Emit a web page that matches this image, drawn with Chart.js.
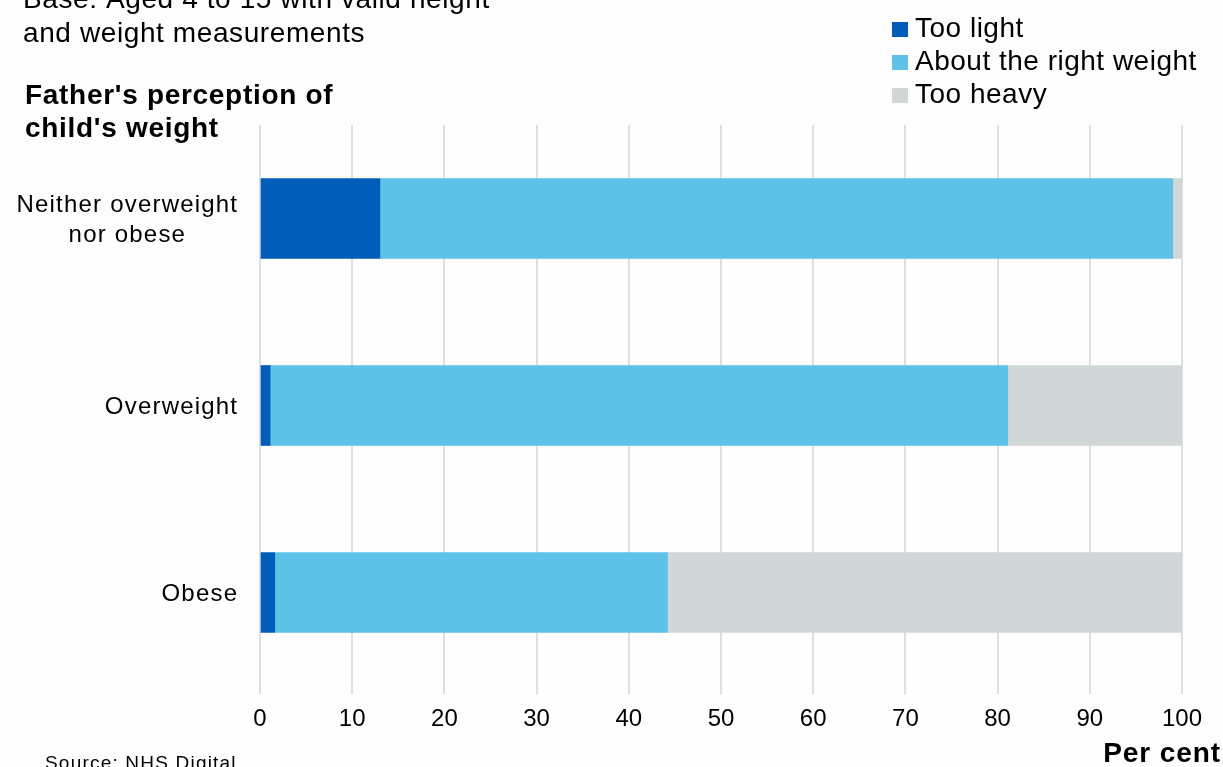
<!DOCTYPE html>
<html>
<head>
<meta charset="utf-8">
<script src="https://cdn.jsdelivr.net/npm/chart.js@4"></script>
<style>
  html, body { margin: 0; padding: 0; background: #fdfdfd; }
  #wrap { width: 1223px; height: 767px; position: relative; }
</style>
</head>
<body>
<div id="wrap"><canvas id="chart" width="1223" height="767"></canvas></div>
<script>
"use strict";

// Father's perception of child's weight, by child's measured BMI class (per cent).
const categories = [["Neither overweight", "nor obese"], ["Overweight"], ["Obese"]];
const tooLight = [13, 1.1, 1.6];
const aboutRight = [86, 80, 42.6];
const tooHeavy = [1, 18.9, 55.8];
const xTicks = [0, 10, 20, 30, 40, 50, 60, 70, 80, 90, 100];

const seriesNames = ["Too light", "About the right weight", "Too heavy"];
const seriesColours = ["#005eb8", "#5dc1e8", "#d1d6d6"];

const FONT = "'Liberation Sans', Arial, sans-serif";

function spacedText(ctx, text, x, y, font, spacing, align) {
  ctx.save();
  ctx.font = font;
  ctx.letterSpacing = spacing + "px";
  ctx.fillStyle = "#000";
  ctx.textBaseline = "alphabetic";
  let w = ctx.measureText(text).width - spacing;
  let left = x;
  if (align === "right") left = x - w;
  else if (align === "center") left = x - w / 2;
  ctx.textAlign = "left";
  ctx.fillText(text, left, y);
  ctx.restore();
  return w;
}

function textWidth(ctx, text, font, spacing) {
  ctx.save();
  ctx.font = font;
  ctx.letterSpacing = spacing + "px";
  const w = ctx.measureText(text).width - spacing;
  ctx.restore();
  return w;
}

const background = {
  id: "background",
  beforeDraw(chart) {
    const ctx = chart.ctx;
    ctx.save();
    ctx.fillStyle = "#fdfdfd";
    ctx.fillRect(0, 0, chart.width, chart.height);
    ctx.restore();
  },
};

// titles, legend, category labels and notes drawn straight on the canvas
const annotations = {
  id: "annotations",
  afterDraw(chart) {
    const ctx = chart.ctx;
    const reg = `28px ${FONT}`;
    const bold = `bold 28px ${FONT}`;

    spacedText(ctx, "Base: Aged 4 to 15 with valid height", 23, 8, reg, 0.6);
    spacedText(ctx, "and weight measurements", 23, 42, reg, 0.6);

    spacedText(ctx, "Father's perception of", 25, 104, bold, 0.7);
    spacedText(ctx, "child's weight", 25, 137, bold, 0.7);

    // legend
    const legFont = `28px ${FONT}`;
    seriesNames.forEach((name, i) => {
      const base = 37 + i * 33;
      ctx.fillStyle = seriesColours[i];
      ctx.fillRect(892, base - 15, 16, 15);
      spacedText(ctx, name, 915, base, legFont, 0.5);
    });

    // category labels, each block right-aligned with its lines centred
    const yScale = chart.scales.y;
    const catFont = `24px ${FONT}`;
    categories.forEach((lines, i) => {
      const cy = yScale.getPixelForValue(i);
      const widths = lines.map((l) => textWidth(ctx, l, catFont, 1.2));
      const maxW = Math.max(...widths);
      const cx = 237 - maxW / 2;
      const first = cy + 8 - (lines.length - 1) * 15;
      lines.forEach((l, j) => spacedText(ctx, l, cx, first + j * 30, catFont, 1.2, "center"));
    });

    spacedText(ctx, "Per cent", 1220, 762, bold, 0.9, "right");
    spacedText(ctx, "Source: NHS Digital", 45, 769, `19px ${FONT}`, 1.2);
  },
};

new Chart(document.getElementById("chart"), {
  type: "bar",
  data: {
    labels: categories,
    datasets: [
      { label: seriesNames[0], data: tooLight, backgroundColor: seriesColours[0] },
      { label: seriesNames[1], data: aboutRight, backgroundColor: seriesColours[1] },
      { label: seriesNames[2], data: tooHeavy, backgroundColor: seriesColours[2] },
    ],
  },
  options: {
    indexAxis: "y",
    responsive: false,
    animation: false,
    layout: { padding: { left: 0, right: 41, top: 125, bottom: 0 } },
    datasets: { bar: { barThickness: 80, borderWidth: 0 } },
    plugins: { legend: { display: false }, tooltip: { enabled: false } },
    scales: {
      x: {
        stacked: true,
        min: 0,
        max: 100,
        afterBuildTicks: (s) => { s.ticks = xTicks.map((v) => ({ value: v })); },
        afterFit: (s) => { s.height = 81; },
        grid: { color: "#dcdfe3", lineWidth: 2, tickLength: 8, drawTicks: true },
        border: { display: false },
        ticks: { color: "#000", padding: 11, font: { family: FONT, size: 24 } },
      },
      y: {
        stacked: true,
        afterFit: (s) => { s.width = 260; },
        grid: { display: false },
        border: { display: false },
        ticks: { display: false },
      },
    },
  },
  plugins: [background, annotations],
});
</script>
</body>
</html>
